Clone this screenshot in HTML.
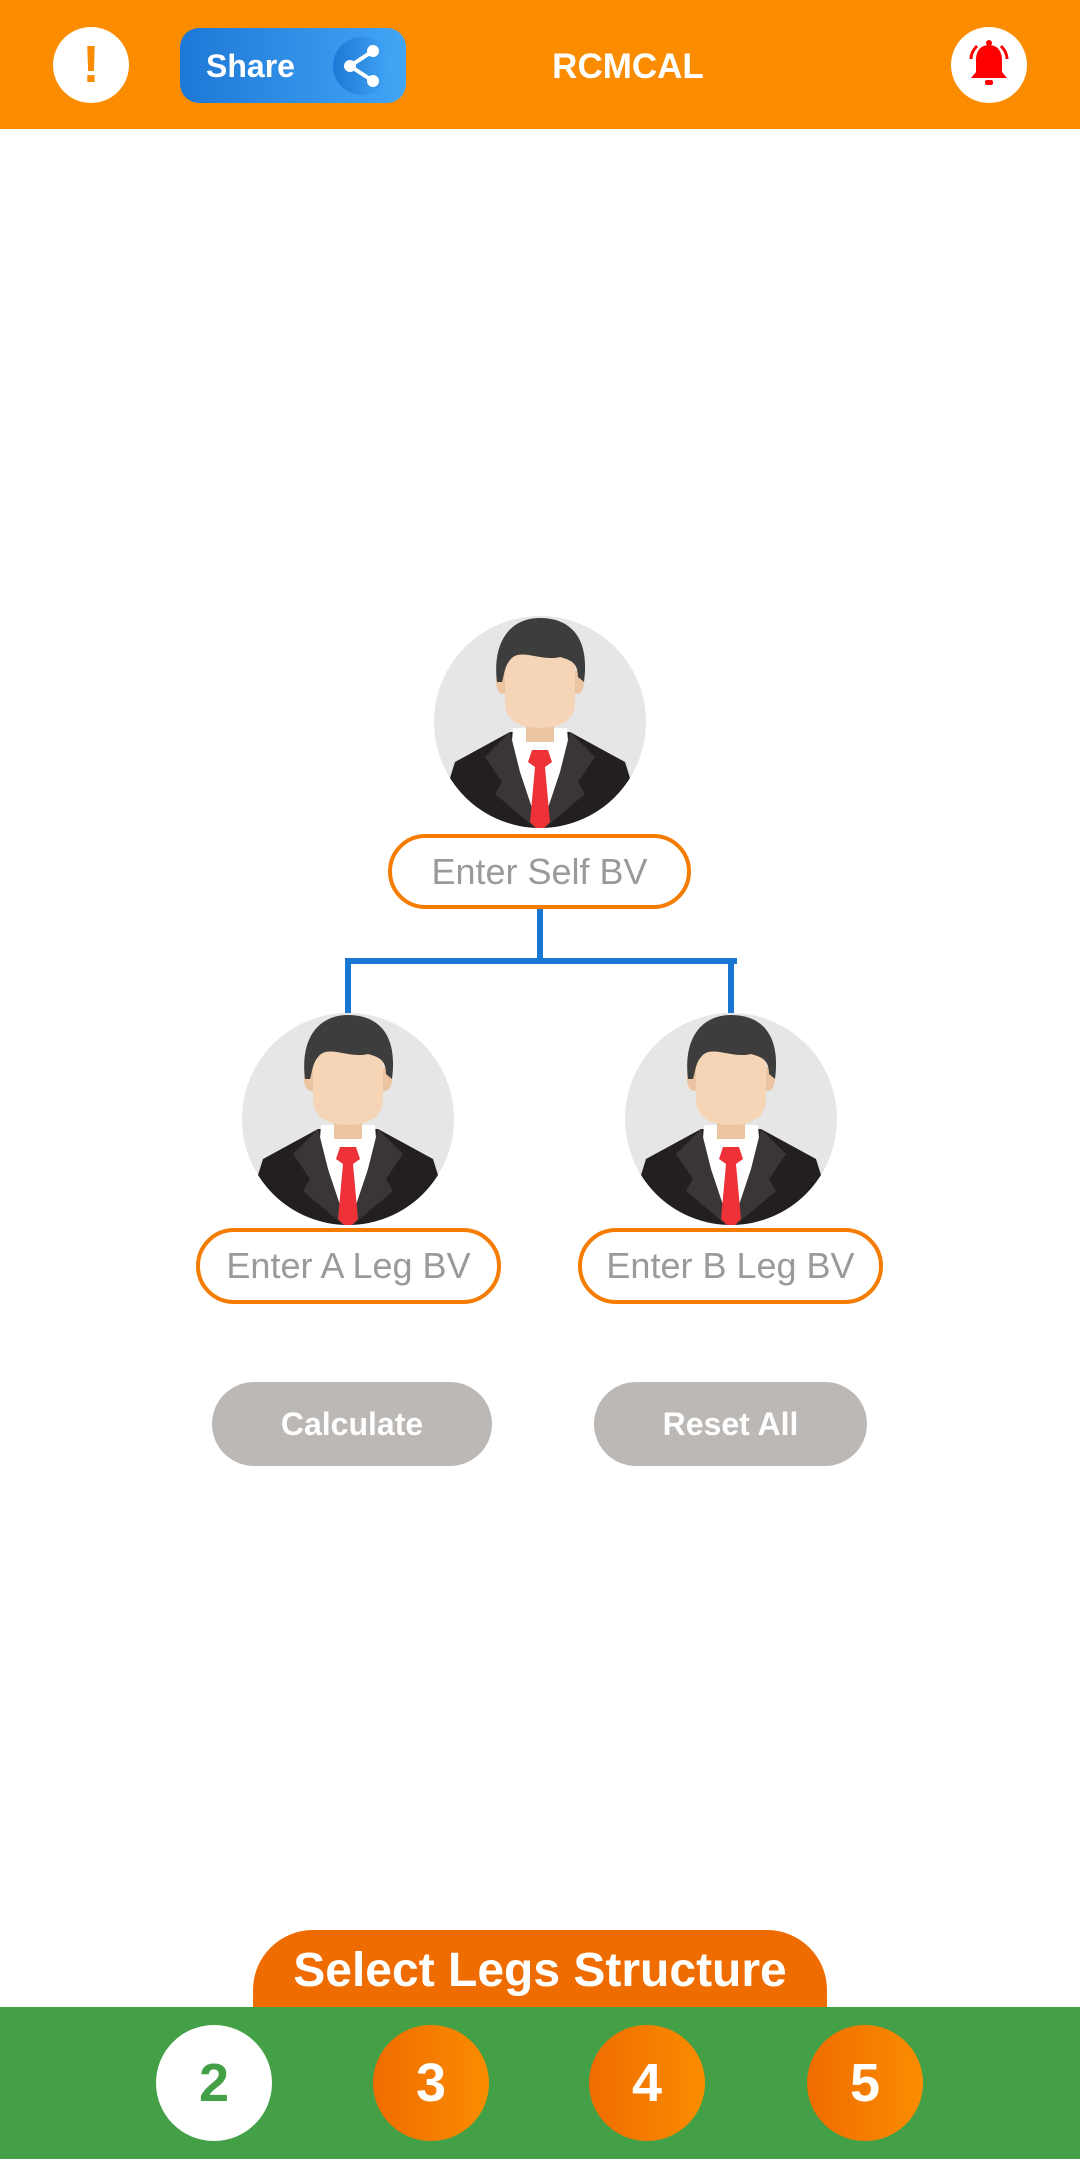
<!DOCTYPE html>
<html><head><meta charset="utf-8">
<style>
*{margin:0;padding:0;box-sizing:border-box}
body{width:1080px;height:2159px;position:relative;background:#fff;font-family:"Liberation Sans",sans-serif;overflow:hidden}
.abs{position:absolute}
.hdr{left:0;top:0;width:1080px;height:129px;background:#FB8C00}
.circ{border-radius:50%;display:flex;align-items:center;justify-content:center}
.inp{border:4px solid #F57C00;border-radius:38px;color:#9a9a9a;font-size:36px;display:flex;align-items:center;justify-content:center;background:#fff}
.btn{background:#BCB8B5;border-radius:42px;color:#fff;font-weight:bold;font-size:32px;display:flex;align-items:center;justify-content:center}
.line{background:#1976D2}
.num{width:116px;height:116px;top:2025px;font-size:54px;font-weight:bold;color:#fff;background:linear-gradient(90deg,#EF6C00,#FB8C00)}
</style></head><body>
<div class="abs hdr"></div>
<div class="abs circ" style="left:53px;top:27px;width:76px;height:76px;background:#fff;color:#FB8C00;font-size:52px;font-weight:bold">!</div>
<div class="abs" style="left:180px;top:28px;width:226px;height:75px;border-radius:19px;background:linear-gradient(90deg,#1E78D6,#42A5F5)"></div>
<div class="abs" style="left:206px;top:48px;font-size:32px;font-weight:bold;color:#fff">Share</div>
<div class="abs circ" style="left:333px;top:37px;width:58px;height:58px;background:linear-gradient(90deg,#1E78D6,#42A5F5)">
<svg width="50" height="50" viewBox="0 0 50 50"><g stroke="#fff" stroke-width="4"><line x1="36" y1="10" x2="13" y2="25"/><line x1="13" y1="25" x2="36" y2="40"/></g><g fill="#fff"><circle cx="36" cy="10" r="6"/><circle cx="13" cy="25" r="6"/><circle cx="36" cy="40" r="6"/></g></svg></div>
<div class="abs" style="left:528px;top:47px;width:200px;text-align:center;font-size:35px;font-weight:bold;color:#fff">RCMCAL</div>
<div class="abs circ" style="left:951px;top:27px;width:76px;height:76px;background:#fff">
<svg width="56" height="56" viewBox="0 0 56 56"><path d="M28 8c-9 0-13 7-13 15v12l-5 6h36l-5-6V23c0-8-4-15-13-15z" fill="#f00"/><circle cx="28" cy="6" r="3" fill="#f00"/><rect x="24" y="43" width="8" height="5" rx="2" fill="#f00"/><path d="M10 22c0-6 3-10 6-13M46 22c0-6-3-10-6-13" stroke="#f00" stroke-width="3" fill="none"/></svg></div>

<svg width="0" height="0" style="position:absolute">
<defs>
<clipPath id="cc"><circle cx="0" cy="0" r="106"/></clipPath>
<g id="av">
<circle cx="0" cy="0" r="106" fill="#E6E6E6"/>
<g clip-path="url(#cc)">
<path d="M-85 40 L-30 10 L30 10 L85 40 L110 120 L-110 120Z" fill="#231F20"/>
<path d="M-27 6 L27 6 L30 45 L0 110 L-30 45Z" fill="#fff"/>
<path d="M-30 10 L-55 35 L-38 60 L-45 72 L0 110 L-20 50Z" fill="#3A3536"/>
<path d="M30 10 L55 35 L38 60 L45 72 L0 110 L20 50Z" fill="#3A3536"/>
<path d="M-8 28 L8 28 L12 40 L5 45 L10 100 L0 110 L-10 100 L-5 45 L-12 40Z" fill="#EE3238"/>
<rect x="-14" y="-10" width="28" height="30" fill="#EBC5A2"/>
<ellipse cx="-37" cy="-40" rx="7" ry="12" fill="#EBC5A2"/>
<ellipse cx="37" cy="-40" rx="7" ry="12" fill="#EBC5A2"/>
<path d="M-35 -75 L35 -75 L35 -20 C35 0 18 6 0 6 C-18 6 -35 0 -35 -20Z" fill="#F5D5B5"/>
<path d="M-43 -40 C-48 -80 -30 -104 0 -104 C30 -104 50 -85 44 -40 L38 -45 C38 -60 30 -62 20 -65 C0 -60 -20 -75 -30 -62 C-36 -55 -36 -45 -38 -40Z" fill="#3D3D3D"/>
</g>
</g>
</defs></svg>

<svg class="abs" style="left:434px;top:616px" width="212" height="212" viewBox="-106 -106 212 212"><use href="#av"/></svg>
<svg class="abs" style="left:242px;top:1013px" width="212" height="212" viewBox="-106 -106 212 212"><use href="#av"/></svg>
<svg class="abs" style="left:625px;top:1013px" width="212" height="212" viewBox="-106 -106 212 212"><use href="#av"/></svg>

<div class="abs line" style="left:537px;top:908px;width:6px;height:56px"></div>
<div class="abs line" style="left:345px;top:958px;width:392px;height:6px"></div>
<div class="abs line" style="left:345px;top:958px;width:6px;height:55px"></div>
<div class="abs line" style="left:728px;top:958px;width:6px;height:55px"></div>

<div class="abs inp" style="left:388px;top:834px;width:303px;height:75px">Enter Self BV</div>
<div class="abs inp" style="left:196px;top:1228px;width:305px;height:76px">Enter A Leg BV</div>
<div class="abs inp" style="left:578px;top:1228px;width:305px;height:76px">Enter B Leg BV</div>

<div class="abs btn" style="left:212px;top:1382px;width:280px;height:84px">Calculate</div>
<div class="abs btn" style="left:594px;top:1382px;width:273px;height:84px">Reset All</div>

<div class="abs" style="left:253px;top:1930px;width:574px;height:90px;background:#EF6C00;border-radius:60px 60px 0 0"></div>
<div class="abs" style="left:253px;top:1943px;width:574px;text-align:center;font-size:48px;font-weight:bold;color:#fff">Select Legs Structure</div>
<div class="abs" style="left:0;top:2007px;width:1080px;height:152px;background:#43A047"></div>
<div class="abs circ num" style="left:156px;background:#fff;color:#43A047">2</div>
<div class="abs circ num" style="left:373px">3</div>
<div class="abs circ num" style="left:589px">4</div>
<div class="abs circ num" style="left:807px">5</div>
</body></html>
